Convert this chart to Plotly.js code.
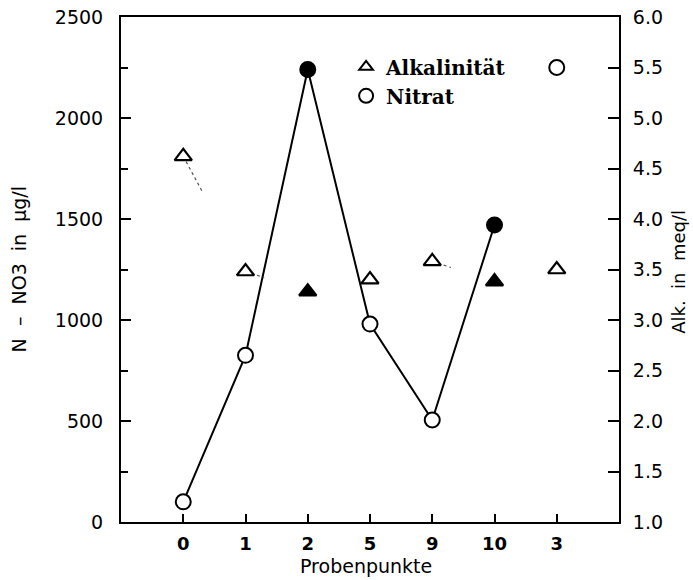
<!DOCTYPE html>
<html>
<head>
<meta charset="utf-8">
<script src="https://cdn.plot.ly/plotly-3.0.1.min.js"></script>
<style>html,body{margin:0;padding:0;background:#fff;}#chart{width:693px;height:580px;}</style>
</head>
<body>
<div id="chart"></div>
<script>
// ---- data ----
const categories = ["0", "1", "2", "5", "9", "10", "3"];
const nitrat = [100, 825, 2240, 980, 505, 1470, 2250];          // µg/l, left axis
const nitratConnected = [true, true, true, true, true, true, false];
const alkalinitaet = [4.62, 3.48, 3.28, 3.40, 3.58, 3.38, 3.50]; // meq/l, right axis
const filledPoint = [false, false, true, false, false, true, false];
const alkTrailFrom = [0, 1, 4]; // partial dotted connectors visible in the original

// ---- build traces ----
const xIdx = categories.map((_, i) => i);
const fills = filledPoint.map(f => f ? "black" : "white");

const lineX = xIdx.filter((_, i) => nitratConnected[i]);
const lineY = nitrat.filter((_, i) => nitratConnected[i]);

const traces = [];

// dotted partial connectors of the alkalinity series
const trailFrac = 0.3;
alkTrailFrom.forEach(i => {
  const x0 = xIdx[i], y0 = alkalinitaet[i];
  const x1 = xIdx[i + 1], y1 = alkalinitaet[i + 1];
  traces.push({
    x: [x0, x0 + (x1 - x0) * trailFrac],
    y: [y0, y0 + (y1 - y0) * trailFrac],
    yaxis: "y2", mode: "lines", showlegend: false, hoverinfo: "skip",
    line: {color: "#555", width: 1.2, dash: "dot"}
  });
});

traces.push({
  x: lineX, y: lineY, mode: "lines", showlegend: false,
  line: {color: "black", width: 2}
});
traces.push({
  x: xIdx, y: nitrat, mode: "markers", showlegend: false,
  marker: {symbol: "circle", size: 15, color: fills, line: {color: "black", width: 2}}
});
traces.push({
  x: xIdx, y: alkalinitaet, yaxis: "y2", mode: "markers", showlegend: false,
  marker: {symbol: "triangle-up", size: 15, color: fills, line: {color: "black", width: 2.2}}
});
// legend entries
traces.push({
  x: [null], y: [null], mode: "markers", name: "Alkalinität", showlegend: true,
  marker: {symbol: "triangle-up", size: 12, color: "white", line: {color: "black", width: 2}}
});
traces.push({
  x: [null], y: [null], mode: "markers", name: "Nitrat", showlegend: true,
  marker: {symbol: "circle", size: 14, color: "white", line: {color: "black", width: 2}}
});

const tickFont = {family: "DejaVu Sans", size: 19, color: "black"};
const titleFont = {family: "DejaVu Sans", size: 18, color: "black"};
const sp = " \u00a0";

const layout = {
  width: 693, height: 580,
  margin: {l: 121, r: 74, t: 17, b: 58, pad: 0},
  paper_bgcolor: "white", plot_bgcolor: "white",
  showlegend: true,
  legend: {
    x: 0.452, y: 0.94, xanchor: "left", yanchor: "top",
    bgcolor: "rgba(0,0,0,0)", borderwidth: 0, tracegroupgap: 0,
    font: {family: "DejaVu Serif", size: 20, color: "black", weight: 600}
  },
  xaxis: {
    range: [-1, 7], tickmode: "array", tickvals: xIdx, ticktext: categories,
    showgrid: false, zeroline: false,
    showline: true, linecolor: "black", linewidth: 2, mirror: true,
    ticks: "inside", ticklen: 8, tickwidth: 2, tickcolor: "black",
    tickfont: {family: "DejaVu Sans", size: 18, color: "black", weight: "bold"},
    ticklabelstandoff: 4
  },
  yaxis: {
    range: [0, 2500], dtick: 500, tick0: 0,
    showgrid: false, zeroline: false,
    showline: true, linecolor: "black", linewidth: 2,
    ticks: "inside", ticklen: 10, tickwidth: 2, tickcolor: "black",
    minor: {dtick: 250, ticks: "inside", ticklen: 7, tickwidth: 2, tickcolor: "black", showgrid: false},
    tickfont: tickFont, ticklabelstandoff: 12
  },
  yaxis2: {
    overlaying: "y", side: "right", range: [1, 6], dtick: 0.5, tick0: 1,
    tickformat: ".1f",
    showgrid: false, zeroline: false,
    showline: true, linecolor: "black", linewidth: 2,
    ticks: "inside", ticklen: 11, tickwidth: 2, tickcolor: "black",
    tickfont: tickFont, ticklabelstandoff: 8
  },
  annotations: [
    {text: "N" + sp + "\u2013" + sp + "NO3" + sp + "in" + sp + "\u03bcg/l", xref: "paper", yref: "paper",
     x: -0.205, y: 0.5, xanchor: "center", yanchor: "middle", textangle: -90,
     showarrow: false, font: {family: "DejaVu Sans", size: 19, color: "black"}},
    {text: "Alk." + sp + "in" + sp + "meq/l", xref: "paper", yref: "paper",
     x: 1.118, y: 0.495, xanchor: "center", yanchor: "middle", textangle: -90,
     showarrow: false, font: titleFont},
    {text: "Probenpunkte", xref: "paper", yref: "paper",
     x: 0.492, y: -0.088, xanchor: "center", yanchor: "middle",
     showarrow: false, font: {family: "DejaVu Sans", size: 19, color: "black"}}
  ]
};

Plotly.newPlot("chart", traces, layout, {displayModeBar: false, staticPlot: true});
</script>
</body>
</html>
